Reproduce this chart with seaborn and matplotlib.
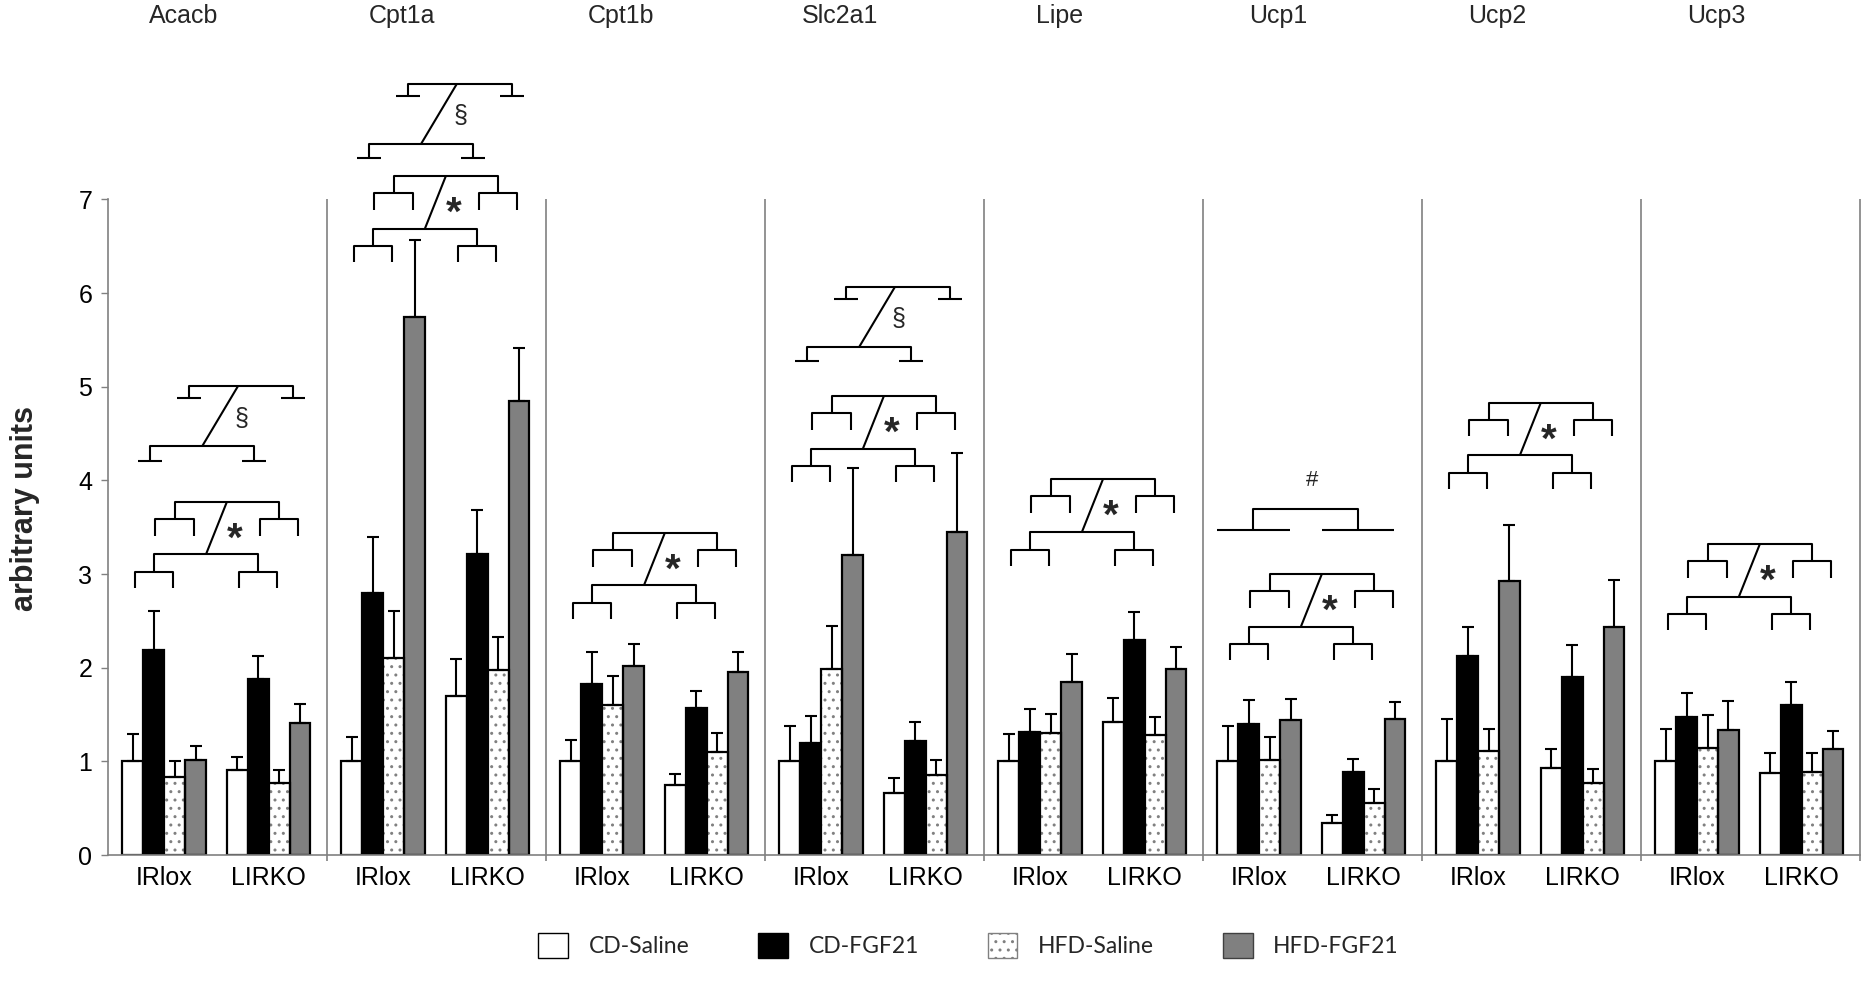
import numpy as np
import pandas as pd
import matplotlib
matplotlib.use("Agg")
import matplotlib.pyplot as plt
from matplotlib.patches import Patch, Rectangle
import seaborn as sns

genes = ["Acacb", "Cpt1a", "Cpt1b", "Slc2a1", "Lipe", "Ucp1", "Ucp2", "Ucp3"]
genotypes = ["IRlox", "LIRKO"]
treatments = ["CD-Saline", "CD-FGF21", "HFD-Saline", "HFD-FGF21"]

# mean values, order: gene x genotype (IRlox, LIRKO)
cd_saline = [1.00, 0.91, 1.00, 1.70, 1.00, 0.75, 1.00, 0.66, 1.00, 1.42, 1.00, 0.34, 1.00, 0.93, 1.00, 0.88]
cd_fgf21 = [2.19, 1.88, 2.80, 3.21, 1.83, 1.57, 1.20, 1.22, 1.31, 2.30, 1.40, 0.89, 2.12, 1.90, 1.47, 1.60]
hfd_saline = [0.83, 0.77, 2.10, 1.98, 1.60, 1.10, 1.99, 0.85, 1.30, 1.28, 1.01, 0.56, 1.11, 0.77, 1.14, 0.89]
hfd_fgf21 = [1.02, 1.41, 5.75, 4.85, 2.02, 1.95, 3.20, 3.45, 1.85, 1.99, 1.44, 1.45, 2.93, 2.44, 1.33, 1.13]

# SEM (upper error only)
cd_saline_sem = [0.29, 0.14, 0.26, 0.39, 0.23, 0.12, 0.38, 0.16, 0.29, 0.26, 0.38, 0.09, 0.45, 0.20, 0.35, 0.21]
cd_fgf21_sem = [0.42, 0.25, 0.60, 0.47, 0.34, 0.18, 0.28, 0.20, 0.25, 0.29, 0.26, 0.14, 0.31, 0.34, 0.26, 0.25]
hfd_saline_sem = [0.17, 0.14, 0.51, 0.35, 0.31, 0.20, 0.46, 0.16, 0.21, 0.19, 0.25, 0.14, 0.24, 0.15, 0.35, 0.20]
hfd_fgf21_sem = [0.14, 0.20, 0.82, 0.56, 0.23, 0.22, 0.93, 0.84, 0.30, 0.23, 0.23, 0.18, 0.59, 0.50, 0.32, 0.19]

# significance marks (height of the lowest bracket foot)
star_base = [2.85, 6.33, 2.52, 3.98, 3.09, 2.08, 3.91, 2.40]
section_genes = ["Acacb", "Cpt1a", "Slc2a1"]
section_base = [4.21, 7.44, 5.27]
hash_genes = ["Ucp1"]
hash_base = [3.47]

sns.set_theme(style="white")
plt.rcParams["font.family"] = ["Liberation Sans", "DejaVu Sans"]
plt.rcParams["hatch.color"] = "#808080"
plt.rcParams["hatch.linewidth"] = 1.0

fig = plt.figure(figsize=(18.66, 9.94), dpi=100)
ax = fig.add_axes([0.0577, 0.1398, 0.9389, 0.8602])

offsets = [0.258, 0.735]
pos = [round(g + o, 3) for g in range(len(genes)) for o in offsets]
means = [cd_saline, cd_fgf21, hfd_saline, hfd_fgf21]
sems = [cd_saline_sem, cd_fgf21_sem, hfd_saline_sem, hfd_fgf21_sem]

df = pd.DataFrame({
    "pos": np.tile(pos, 4),
    "treatment": np.repeat(treatments, len(pos)),
    "value": np.concatenate(means),
})

colors = ["white", "black", "white", "#808080"]
sns.barplot(data=df, x="pos", y="value", hue="treatment", hue_order=treatments,
            palette=colors, saturation=1, native_scale=True, width=0.8,
            errorbar=None, edgecolor="black", linewidth=1.6, legend=False, ax=ax)
bar_sets = list(ax.containers)[:4]

# dotted bars: gray dots, black outline
for bar in bar_sets[2]:
    bar.set_hatch("..")
    bar.set_edgecolor("#808080")
    bar.set_linewidth(0)
    ax.add_patch(Rectangle(bar.get_xy(), bar.get_width(), bar.get_height(),
                           fill=False, ec="black", lw=1.6, zorder=bar.get_zorder() + 0.1))

cx = []
for k, cont in enumerate(bar_sets):
    xs = np.array([b.get_x() + b.get_width() / 2 for b in cont])
    cx.append(xs)
    ax.errorbar(xs, means[k], yerr=[np.zeros(len(xs)), sems[k]], fmt="none",
                ecolor="black", elinewidth=1.5, capsize=4.3, capthick=1.5, zorder=3)

LW = 1.5


def line(xs, ys):
    ax.plot(xs, ys, color="black", lw=LW, solid_capstyle="butt", clip_on=False, zorder=4)


def star_mark(p, b):
    lo, hi = [], []
    for g in (0, 1):
        i = 2 * p + g
        x0, x1 = cx[0][i] + 0.008, cx[2][i] - 0.008
        line([x0, x0, x1, x1], [b, b + 0.17, b + 0.17, b])
        lo.append((x0 + x1) / 2)
        x0, x1 = cx[1][i] + 0.008, cx[3][i] - 0.008
        line([x0, x0, x1, x1], [b + 0.56, b + 0.74, b + 0.74, b + 0.56])
        hi.append((x0 + x1) / 2)
    line([lo[0], lo[0], lo[1], lo[1]], [b + 0.17, b + 0.36, b + 0.36, b + 0.17])
    line([hi[0], hi[0], hi[1], hi[1]], [b + 0.74, b + 0.92, b + 0.92, b + 0.74])
    xa, xb = np.mean(lo), np.mean(hi)
    line([xa, xb], [b + 0.36, b + 0.92])
    ax.text((xa + xb) / 2 + 0.085, b + 0.40, "*", ha="center", va="baseline",
            fontsize=29, fontweight="bold")


def section_mark(p, f):
    gc = [(cx[1][2 * p + g] + cx[2][2 * p + g]) / 2 for g in (0, 1)]
    lo = [c - 0.065 for c in gc]
    hi = [c + 0.113 for c in gc]
    for xs, y0, y1 in ((lo, f, f + 0.155), (hi, f + 0.665, f + 0.795)):
        line([xs[0], xs[0], xs[1], xs[1]], [y0, y1, y1, y0])
        for x in xs:
            line([x - 0.055, x + 0.055], [y0, y0])
    xa, xb = np.mean(lo), np.mean(hi) - 0.015
    line([xa, xb], [f + 0.155, f + 0.795])
    ax.text((xa + xb) / 2 + 0.1, f + 0.45, "§", ha="center", va="center", fontsize=18)


def hash_mark(p, f):
    gc = [(cx[1][2 * p + g] + cx[2][2 * p + g]) / 2 - 0.026 for g in (0, 1)]
    line([gc[0], gc[0], gc[1], gc[1]], [f, f + 0.23, f + 0.23, f])
    for x in gc:
        line([x - 0.166, x + 0.166], [f, f])
    ax.text(p + 0.5, f + 0.53, "#", ha="center", va="center", fontsize=16)


for p, b in enumerate(star_base):
    star_mark(p, b)
for g, f in zip(section_genes, section_base):
    section_mark(genes.index(g), f)
for g, f in zip(hash_genes, hash_base):
    hash_mark(genes.index(g), f)

# panel separators and gene names
ax.vlines(np.arange(1, len(genes) + 1), -0.06, 7, color="#808080", lw=1.2, clip_on=False)
for p, g in enumerate(genes):
    ax.text(p + 0.345, 8.96, g, ha="center", va="center", fontsize=18)

ax.set_xlim(0, len(genes))
ax.set_ylim(0, 9.13)
ax.set_xticks(pos)
ax.set_xticklabels(genotypes * len(genes))
ax.set_yticks(range(8))
ax.tick_params(axis="x", length=0, pad=8, labelsize=18, colors="black")
ax.tick_params(axis="y", length=5, width=1, color="#808080", direction="out",
               pad=6, labelsize=18, labelcolor="black", left=True)
ax.set_xlabel("")
ax.set_ylabel("")
for s in ("top", "right"):
    ax.spines[s].set_visible(False)
ax.spines["left"].set_bounds(0, 7)
ax.spines["left"].set_color("#808080")
ax.spines["bottom"].set_color("#808080")
ax.spines["left"].set_linewidth(1.2)
ax.spines["bottom"].set_linewidth(1.2)
ax.text(-0.047, 3.7 / 9.13, "arbitrary units", transform=ax.transAxes, rotation=90,
        ha="center", va="center", fontsize=22, fontweight="bold")

handles = [
    Patch(facecolor="white", edgecolor="black", lw=1),
    Patch(facecolor="black", edgecolor="black", lw=1),
    Patch(facecolor="white", edgecolor="#808080", hatch="..", lw=1),
    Patch(facecolor="#808080", edgecolor="#404040", lw=1),
]
fig.legend(handles, treatments, loc="center", bbox_to_anchor=(0.519, 0.049), ncol=4,
           frameon=False, handlelength=1.3, handleheight=1.3, handletextpad=0.9,
           columnspacing=3.0, prop={"family": "Lato", "size": 16.5})

fig.savefig("out.png", dpi=100)
